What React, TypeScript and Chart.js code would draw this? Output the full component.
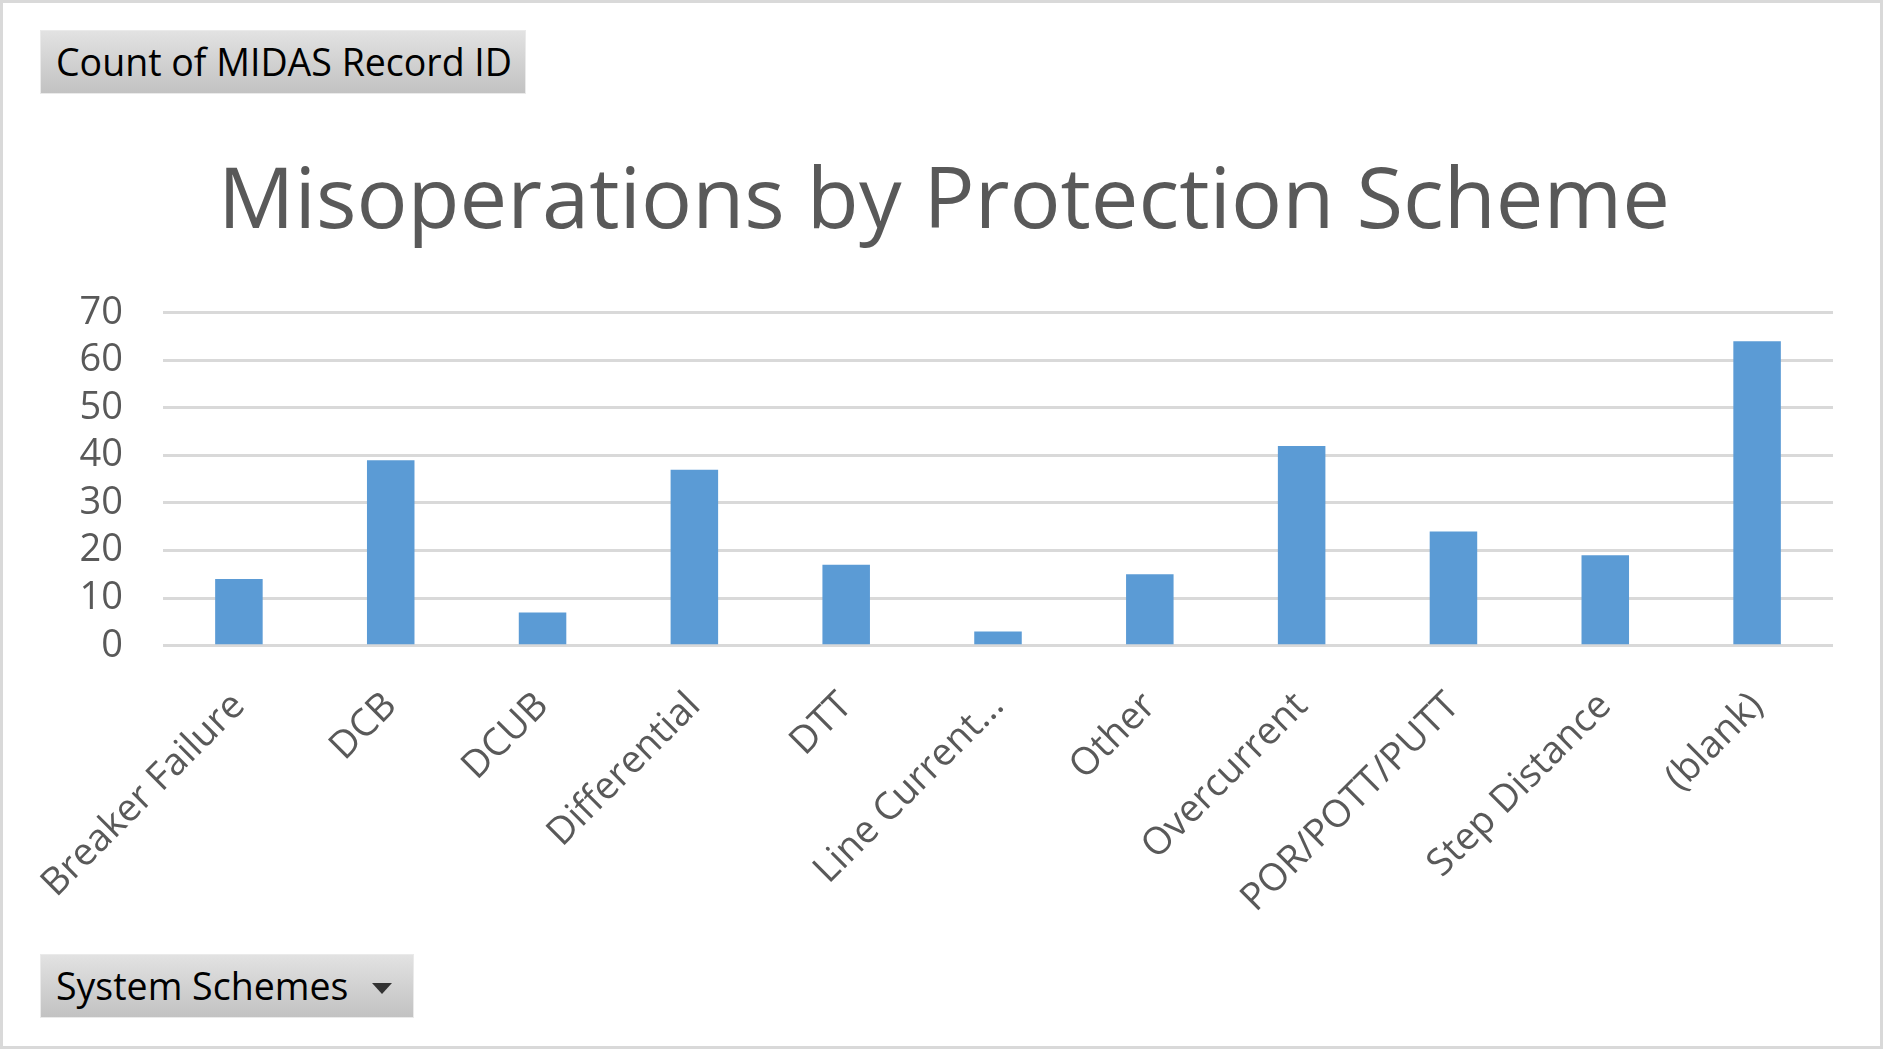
import React, { useEffect, useRef } from "react";
import { Chart, registerables } from "chart.js";

Chart.register(...registerables);

const categories = [
  "Breaker Failure",
  "DCB",
  "DCUB",
  "Differential",
  "DTT",
  "Line Current...",
  "Other",
  "Overcurrent",
  "POR/POTT/PUTT",
  "Step Distance",
  "(blank)",
];
const counts = [14, 39, 7, 37, 17, 3, 15, 42, 24, 19, 64];
const yMin = 0;
const yMax = 70;
const yStep = 10;
const titleText = "Misoperations by Protection Scheme";
const valueFieldLabel = "Count of MIDAS Record ID";
const axisFieldLabel = "System Schemes";

const W = 1883;
const H = 1049;
const FONT = "'Open Sans', 'Noto Sans', sans-serif";

const buttonStyle: React.CSSProperties = {
  position: "absolute",
  left: 40,
  height: 64,
  boxSizing: "border-box",
  background: "linear-gradient(#e2e2e2, #c2c2c2)",
  border: "1px solid #eaeaea",
  color: "#000",
  fontFamily: FONT,
  fontSize: 37.5,
  lineHeight: "62px",
  paddingLeft: 15,
  whiteSpace: "nowrap",
};

export default function App() {
  const ref = useRef<HTMLCanvasElement | null>(null);

  useEffect(() => {
    if (!ref.current) return;
    const chart = new Chart(ref.current, {
      type: "bar",
      data: {
        labels: categories,
        datasets: [
          {
            label: "Total",
            data: counts,
            backgroundColor: "#5B9BD5",
            borderWidth: 0,
            barPercentage: 0.313,
            categoryPercentage: 1,
          },
        ],
      },
      options: {
        animation: false,
        responsive: false,
        maintainAspectRatio: false,
        devicePixelRatio: 1,
        layout: { padding: { left: 55, right: 50, top: 0, bottom: 0 } },
        plugins: {
          legend: { display: false },
          tooltip: { enabled: false },
          title: {
            display: true,
            text: titleText,
            color: "#595959",
            font: { family: FONT, size: 85, weight: "normal", lineHeight: 1.2 },
            padding: { top: 153, bottom: 57.7 },
          },
        },
        scales: {
          x: {
            grid: { display: false },
            border: { display: false },
            ticks: {
              autoSkip: false,
              minRotation: 45,
              maxRotation: 45,
              color: "#595959",
              font: { family: FONT, size: 38 },
              padding: 30,
            },
            afterFit: (s: any) => {
              s.height = H - 645.7;
            },
          },
          y: {
            min: yMin,
            max: yMax,
            grid: { color: "#d9d9d9", lineWidth: 3, drawTicks: false },
            border: { display: false },
            ticks: {
              stepSize: yStep,
              autoSkip: false,
              color: "#595959",
              font: { family: FONT, size: 38 },
              padding: 40,
            },
            afterFit: (s: any) => {
              s.width = 108;
            },
          },
        },
      },
    });
    return () => chart.destroy();
  }, []);

  return (
    <div
      style={{
        position: "fixed",
        left: 0,
        top: 0,
        width: W,
        height: H,
        background: "#fff",
        overflow: "hidden",
      }}
    >
      <canvas
        ref={ref}
        width={W}
        height={H}
        style={{ position: "absolute", left: 0, top: 0, width: W, height: H }}
      />
      <div
        style={{
          position: "absolute",
          inset: 0,
          border: "3px solid #d9d9d9",
          pointerEvents: "none",
        }}
      />
      <div style={{ ...buttonStyle, top: 30, width: 486 }}>{valueFieldLabel}</div>
      <div style={{ ...buttonStyle, top: 954, width: 374 }}>
        {axisFieldLabel}
        <span
          style={{
            position: "absolute",
            left: 331,
            top: 28,
            width: 0,
            height: 0,
            borderLeft: "10px solid transparent",
            borderRight: "10px solid transparent",
            borderTop: "11px solid #333",
          }}
        />
      </div>
    </div>
  );
}
